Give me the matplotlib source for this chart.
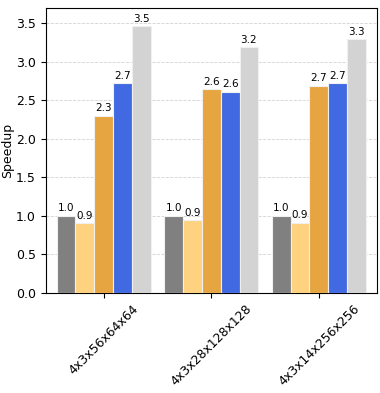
import numpy as np
import matplotlib.pyplot as plt

shapes = ["4x3x56x64x64", "4x3x28x128x128", "4x3x14x256x256"]
s1 = [1.0, 1.0, 1.0]
s2 = [0.90, 0.94, 0.91]
s3 = [2.30, 2.64, 2.69]
s4 = [2.72, 2.61, 2.72]
s5 = [3.46, 3.19, 3.29]

series = [s1, s2, s3, s4, s5]
colors = ['gray', '#FFD280', '#E6A540', 'royalblue', 'lightgray']

fig, ax = plt.subplots(figsize=(3.8, 3.93), dpi=100)
index = np.arange(len(shapes))
width = 0.175

for i, vals in enumerate(series):
    pos = index + (i - 2) * width
    bars = ax.bar(pos, vals, width, color=colors[i], edgecolor='#f0f0f0', linewidth=0.8, zorder=3)
    for b, v in zip(bars, vals):
        ax.text(b.get_x() + b.get_width() / 2, v + 0.03, "%.1f" % v,
                ha='center', va='bottom', fontsize=7.5)

ax.set_ylim(0, 3.7)
ax.set_xlim(-0.54, 2.54)
ax.set_xticks(index)
ax.set_xticklabels(shapes, rotation=45)
ax.tick_params(labelsize=9)
ax.set_ylabel("Speedup", fontsize=9, labelpad=1)
ax.grid(axis='y', linestyle='--', linewidth=0.6, color='lightgray', zorder=0)

plt.subplots_adjust(left=0.12, right=0.992, top=0.98, bottom=0.255)
plt.savefig("out.png")
